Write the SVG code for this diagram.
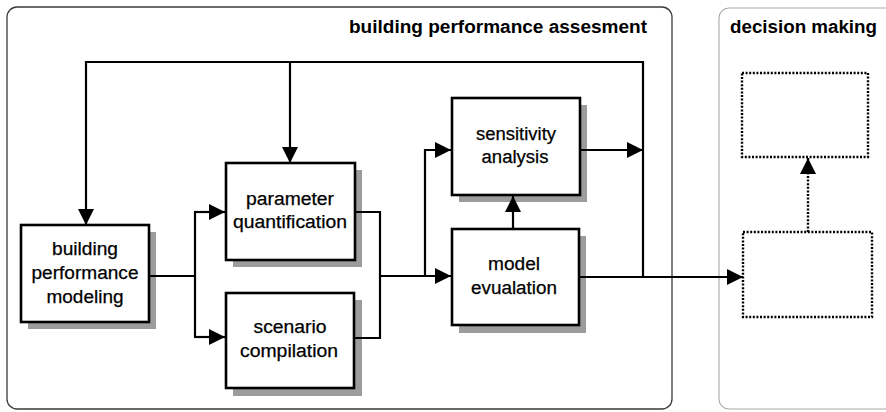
<svg xmlns="http://www.w3.org/2000/svg" width="886" height="412" viewBox="0 0 886 412">
<style>
.container{fill:none;stroke:#3a3a3a;stroke-width:1.3}
.container2{fill:none;stroke:#a8a8a8;stroke-width:1.1}
.box{fill:#fff;stroke:#000;stroke-width:2.6}
.shadow{fill:#9c9c9c}
.dbox{fill:none;stroke:#000;stroke-width:2.4;stroke-dasharray:2 1.6}
.lbl{font-family:"Liberation Sans",Arial,Helvetica,sans-serif;font-size:18px;fill:#000;stroke:#000;stroke-width:0.25;text-anchor:middle}
.title{font-family:"Liberation Sans",Arial,Helvetica,sans-serif;font-size:17.5px;font-weight:bold;fill:#000}
.line{fill:none;stroke:#000;stroke-width:2.2}
.dline{fill:none;stroke:#000;stroke-width:2.4;stroke-dasharray:2 1.6}
</style>
<defs>
<marker id="arr" markerUnits="userSpaceOnUse" markerWidth="17" markerHeight="17" refX="16" refY="8" orient="auto">
<path d="M0,0 L16,8 L0,16 z" fill="#000"/>
</marker>
</defs>
<rect width="886" height="412" fill="#fff"/>
<g id="assessment">
<rect class="container" x="7" y="7" width="665" height="402" rx="10"/>
<text class="title" x="349" y="33" textLength="298" lengthAdjust="spacingAndGlyphs">building performance assesment</text>
</g>
<g id="decision">
<rect class="container2" x="719" y="8" width="200" height="401" rx="10"/>
<text class="title" x="730" y="33" textLength="147" lengthAdjust="spacingAndGlyphs">decision making</text>
</g>
<g id="bpm">
<rect class="shadow" x="28" y="232" width="128" height="97"/>
<rect class="box" x="21" y="225" width="128" height="97"/>
<text class="lbl" x="85" y="255" textLength="66" lengthAdjust="spacingAndGlyphs">building</text>
<text class="lbl" x="85" y="279" textLength="107" lengthAdjust="spacingAndGlyphs">performance</text>
<text class="lbl" x="85" y="303" textLength="77" lengthAdjust="spacingAndGlyphs">modeling</text>
</g>
<g id="param">
<rect class="shadow" x="233" y="170" width="129" height="97"/>
<rect class="box" x="226" y="163" width="129" height="97"/>
<text class="lbl" x="290" y="205" textLength="88" lengthAdjust="spacingAndGlyphs">parameter</text>
<text class="lbl" x="290" y="228" textLength="114" lengthAdjust="spacingAndGlyphs">quantification</text>
</g>
<g id="scenario">
<rect class="shadow" x="233" y="300" width="129" height="96"/>
<rect class="box" x="226" y="293" width="128" height="95"/>
<text class="lbl" x="290" y="333" textLength="73" lengthAdjust="spacingAndGlyphs">scenario</text>
<text class="lbl" x="289" y="357" textLength="98" lengthAdjust="spacingAndGlyphs">compilation</text>
</g>
<g id="sensitivity">
<rect class="shadow" x="459" y="105" width="128" height="97"/>
<rect class="box" x="452" y="98" width="128" height="97"/>
<text class="lbl" x="516" y="140" textLength="80" lengthAdjust="spacingAndGlyphs">sensitivity</text>
<text class="lbl" x="515" y="163" textLength="67" lengthAdjust="spacingAndGlyphs">analysis</text>
</g>
<g id="model">
<rect class="shadow" x="459" y="236" width="127" height="97"/>
<rect class="box" x="452" y="229" width="127" height="96"/>
<text class="lbl" x="514" y="270" textLength="52" lengthAdjust="spacingAndGlyphs">model</text>
<text class="lbl" x="514" y="294" textLength="86" lengthAdjust="spacingAndGlyphs">evualation</text>
</g>
<g id="dm-upper">
<rect class="dbox" x="742" y="73" width="126" height="84"/>
</g>
<g id="dm-lower">
<rect class="dbox" x="743" y="232" width="129" height="85"/>
</g>
<g id="connectors">
<polyline class="line" points="643,277 643,62 86,62 86,225" marker-end="url(#arr)"/>
<line class="line" x1="290" y1="62" x2="290" y2="163" marker-end="url(#arr)"/>
<line class="line" x1="149" y1="276" x2="195" y2="276"/>
<line class="line" x1="195" y1="211" x2="195" y2="338"/>
<line class="line" x1="194" y1="212" x2="225" y2="212" marker-end="url(#arr)"/>
<line class="line" x1="194" y1="337" x2="225" y2="337" marker-end="url(#arr)"/>
<polyline class="line" points="355,212 380,212 380,338 354,338"/>
<line class="line" x1="380" y1="276" x2="451" y2="276" marker-end="url(#arr)"/>
<polyline class="line" points="425,276 425,150 451,150" marker-end="url(#arr)"/>
<line class="line" x1="513" y1="229" x2="513" y2="196" marker-end="url(#arr)"/>
<line class="line" x1="580" y1="150" x2="643" y2="150" marker-end="url(#arr)"/>
<line class="line" x1="579" y1="277" x2="743" y2="277" marker-end="url(#arr)"/>
<line class="dline" x1="808" y1="232" x2="808" y2="158" marker-end="url(#arr)"/>
</g>
</svg>
